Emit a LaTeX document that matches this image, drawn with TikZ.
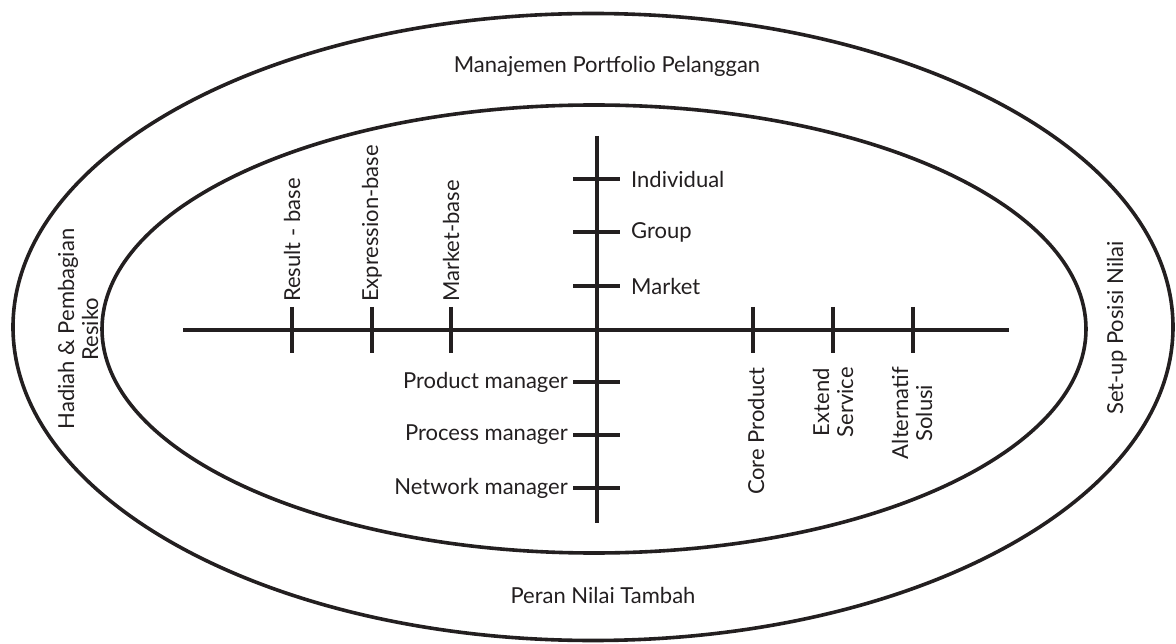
\documentclass[tikz,border=0pt]{standalone}
\usepackage{fontspec}
\setmainfont{Lato}
\usetikzlibrary{shapes.geometric}
\definecolor{ink}{RGB}{35,31,32}
\begin{document}
\begin{tikzpicture}[x=1pt,y=-1pt,
  line width=3.4pt, color=ink,
  ring/.style={draw, ellipse, inner sep=0pt, line width=3.6pt},
  lbl/.style={font=\fontsize{22}{24}\selectfont, inner sep=1.5pt, text=ink},
  vlbl/.style={lbl, rotate=90, align=center}]
\useasboundingbox (0,0) rectangle (1176,644);
% ellipses
\node[ring, minimum width=1160pt, minimum height=627pt] (outer) at (593,327) {};
\node[ring, minimum width=984pt, minimum height=448pt] (inner) at (594,329) {};
% axes
\coordinate (hl) at (183,330);
\coordinate (hr) at (1009,330);
\coordinate (vt) at (597,136);
\coordinate (vb) at (597,523);
\draw (hl) -- (hr);
\draw (vt) -- (vb);
% horizontal-axis ticks
\foreach \n/\x in {r1/292, r2/372, r3/451, c1/753, c2/833, c3/913}{
  \coordinate (\n t) at (\x,307);
  \coordinate (\n b) at (\x,353);
  \draw (\n t) -- (\n b);
}
% vertical-axis ticks
\foreach \n/\y in {u1/179, u2/232, u3/286, d1/382, d2/435, d3/488}{
  \coordinate (\n l) at (573,\y);
  \coordinate (\n r) at (620,\y);
  \draw (\n l) -- (\n r);
}
% outer labels
\node[lbl] (top) at (607,66) {Manajemen Portfolio Pelanggan};
\node[lbl] (bot) at (603,595) {Peran Nilai Tambah};
\node[vlbl] (left) at (78,329) {Hadiah \& Pembagian\\Resiko};
\node[vlbl] (right) at (1117,328) {Set-up Posisi Nilai};
% left-axis labels
\node[vlbl, anchor=west] (rb) at (292,305) {Result - base};
\node[vlbl, anchor=west] (eb) at (372,305) {Expression-base};
\node[vlbl, anchor=west] (mb) at (451,305) {Market-base};
% right-axis labels
\node[vlbl, anchor=east] (cp) at (756,364) {Core Product};
\node[vlbl, anchor=east] (es) at (833,364) {Extend\\Service};
\node[vlbl, anchor=east] (as) at (912,364) {Alternatif\\Solusi};
% upper labels
\node[lbl, anchor=west] (ind) at (628,179) {Individual};
\node[lbl, anchor=west] (grp) at (628,232) {Group};
\node[lbl, anchor=west] (mkt) at (628,286) {Market};
% lower labels
\node[lbl, anchor=east] (pm) at (571,382) {Product manager};
\node[lbl, anchor=east] (prm) at (571,435) {Process manager};
\node[lbl, anchor=east] (nm) at (571,488) {Network manager};
\end{tikzpicture}
\end{document}
